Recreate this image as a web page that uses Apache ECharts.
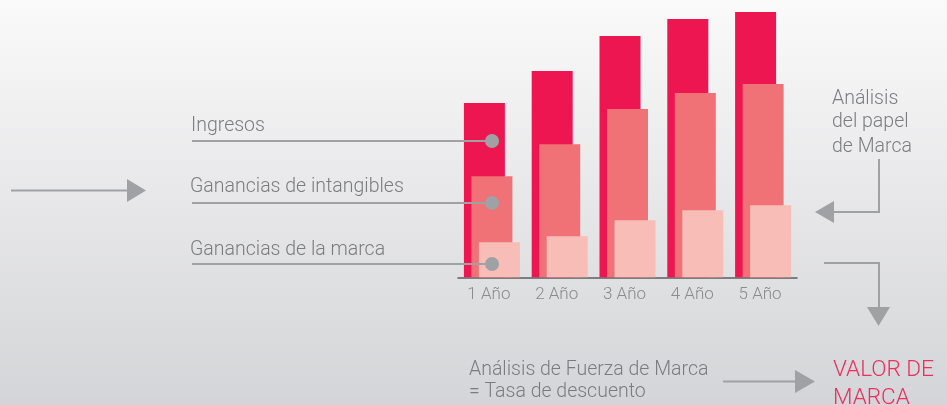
<!DOCTYPE html>
<html><head><meta charset="utf-8">
<script src="https://cdn.jsdelivr.net/npm/echarts@6/dist/echarts.min.js"></script>
<style>html,body{margin:0;padding:0;}#c{width:947px;height:405px;}</style>
</head><body><div id="c"></div>
<script>
const categories = ['1 Año', '2 Año', '3 Año', '4 Año', '5 Año'];
const ingresos = [174, 206, 241, 258, 265];
const intangibles = [101, 133, 168, 184, 193];
const marca = [35, 41, 57, 67, 72];
const seriesNames = ['Ingresos', 'Ganancias de intangibles', 'Ganancias de la marca'];

const FONT = 'Roboto';
const GRAY = '#a0a1a5';
const TXT = '#7b7c80';

function txt(x, baseline, s, size, color) {
  return { type: 'text', z: 100, x: x, y: baseline - 0.28 * size,
    style: { text: s, fill: color || TXT, font: '300 ' + size + 'px ' + FONT, verticalAlign: 'middle', align: 'left' } };
}
function line(pts) {
  return { type: 'polyline', z: 100, shape: { points: pts }, style: { stroke: GRAY, lineWidth: 2, fill: null } };
}
function tri(pts) {
  return { type: 'polygon', z: 100, shape: { points: pts }, style: { fill: GRAY } };
}
function dot(x, y) {
  return { type: 'circle', z: 101, shape: { cx: x, cy: y, r: 7 }, style: { fill: GRAY } };
}

const chart = echarts.init(document.getElementById('c'), null, { renderer: 'canvas' });
chart.setOption({
  animation: false,
  backgroundColor: new echarts.graphic.LinearGradient(0, 0, 0, 1, [
    { offset: 0, color: '#fafafa' }, { offset: 0.5, color: '#e7e7e9' }, { offset: 1, color: '#d4d5d8' }
  ]),
  grid: { left: 458, right: 150, top: 12, bottom: 127.7 },
  xAxis: {
    type: 'category', data: categories,
    axisLine: { lineStyle: { color: '#5c5c5e', width: 1.5 } },
    axisTick: { show: false },
    axisLabel: { color: '#8a8b8e', fontFamily: FONT, fontWeight: 300, fontSize: 17, margin: 9, padding: [0, 6, 0, 0] }
  },
  yAxis: { type: 'value', min: 0, max: 265, show: false, splitLine: { show: false } },
  series: [
    { name: seriesNames[0], type: 'bar', data: ingresos, barWidth: 41, barGap: '-81.7%', itemStyle: { color: '#ee1650' } },
    { name: seriesNames[1], type: 'bar', data: intangibles, barWidth: 41, barGap: '-81.7%', itemStyle: { color: '#f07176' } },
    { name: seriesNames[2], type: 'bar', data: marca, barWidth: 41, barGap: '-81.7%', itemStyle: { color: '#f8bdb6' } }
  ],
  graphic: [
    // left arrow
    line([[11, 190.5], [128, 190.5]]), tri([[127, 179], [146, 190.5], [127, 202]]),
    // series labels with leaders
    txt(191, 132, seriesNames[0], 19.5), line([[192, 141], [492, 141]]), dot(492, 141),
    txt(190, 192.5, seriesNames[1], 19.5), line([[192, 203], [492, 203]]), dot(492, 203),
    txt(190, 255.7, seriesNames[2], 19.5), line([[192, 264], [492, 264]]), dot(492, 264),
    // right top
    txt(832, 104.3, 'Análisis', 19.5), txt(832, 127.3, 'del papel', 19.5), txt(832, 152.3, 'de Marca', 19.5),
    line([[879, 159], [879, 212], [833, 212]]), tri([[834, 201], [815, 212], [834, 223]]),
    // right bottom
    line([[824, 263], [879, 263], [879, 308]]), tri([[867, 307], [890, 307], [878.5, 326]]),
    // bottom
    txt(469, 376, 'Análisis de Fuerza de Marca', 19.5), txt(469, 398, '= Tasa de descuento', 19.5),
    line([[723, 381.5], [796, 381.5]]), tri([[795, 370], [815, 381.5], [795, 393]]),
    txt(833, 377, 'VALOR DE', 22.5, '#ee2e5b'), txt(833, 404.5, 'MARCA', 22.5, '#ee2e5b')
  ]
});
</script></body></html>
